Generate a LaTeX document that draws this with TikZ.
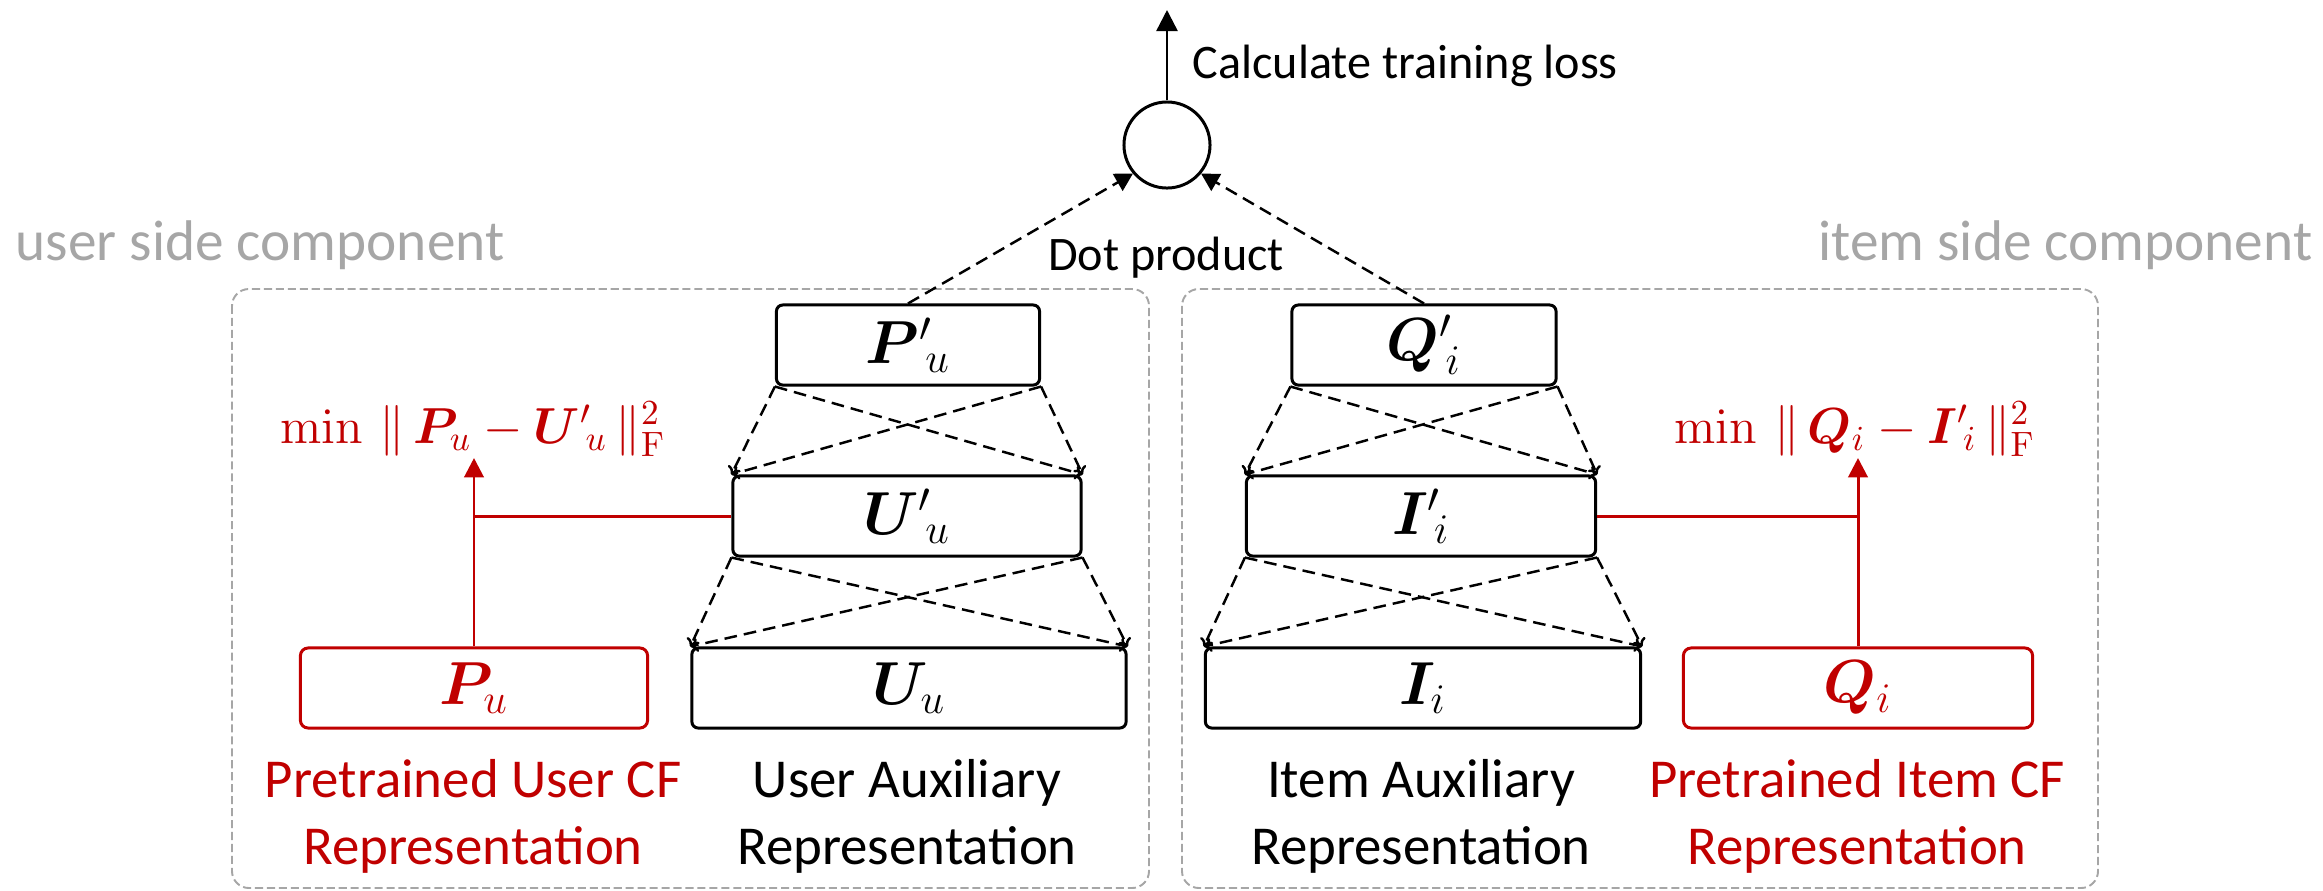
\documentclass[tikz,border=0pt]{standalone}
\usepackage{amsmath,bm}
\usepackage[no-math]{fontspec}
\setmainfont{Carlito}
\usetikzlibrary{arrows.meta,calc}
\definecolor{cfred}{HTML}{C00000}
\definecolor{compgray}{HTML}{A6A6A6}

\begin{document}
\begin{tikzpicture}[x=0.01cm,y=-0.01cm,
  layer/.style={draw,line width=0.85pt,rounded corners=1.8pt,inner sep=0pt,
    minimum height=0.8cm,font=\fontsize{17.4}{20}\selectfont},
  cfbox/.style={layer,draw=cfred,text=cfred,rounded corners=2.2pt},
  link/.style={line width=0.7pt,dash pattern=on 3.6pt off 2pt,
    -{To[length=2.2pt,width=4pt]}},
  dotlink/.style={line width=0.7pt,dash pattern=on 3.6pt off 2pt,
    -{Triangle[length=5pt,width=5.5pt]}},
  cfline/.style={draw=cfred,line width=0.85pt},
  cfarrow/.style={cfline,-{Triangle[length=5.5pt,width=5.5pt]}},
  compbox/.style={draw=compgray,line width=0.55pt,dash pattern=on 2.3pt off 1.1pt,
    rounded corners=4.8pt},
  complabel/.style={text=compgray,inner sep=0pt,font=\fontsize{16.3}{19}\selectfont},
  caption/.style={inner sep=0pt,align=center,font=\fontsize{15.6}{19}\selectfont},
  note/.style={inner sep=0pt,font=\fontsize{13.7}{16}\selectfont},
  objective/.style={inner sep=0pt,text=cfred,font=\fontsize{14}{16}\selectfont},
]
\useasboundingbox (0,0) rectangle (2323,890);

% component frames
\draw[compbox] (232,289) rectangle (1149,888);
\draw[compbox] (1182,289) rectangle (2098,888);
\node[complabel,anchor=base west] (userside) at (15,260) {user side component};
\node[complabel,anchor=base east] (itemside) at (2313,260) {item side component};

% user tower
\node[layer,minimum width=2.63cm] (Ppu) at (908,345) {${\bm{P}'}_{\!u}$};
\node[layer,minimum width=3.48cm] (Upu) at (907,516) {${\bm{U}'}_{\!u}$};
\node[layer,minimum width=4.34cm] (Uu)  at (909,688) {$\bm{U}_{u}$};
\node[cfbox,minimum width=3.47cm] (Pu)  at (474,688) {$\bm{P}_{u}$};

% item tower
\node[layer,minimum width=2.64cm] (Qpi) at (1424,345) {${\bm{Q}'}_{\!i}$};
\node[layer,minimum width=3.49cm] (Ipi) at (1421,516) {${\bm{I}'}_{\!i}$};
\node[layer,minimum width=4.35cm] (Ii)  at (1423,688) {$\bm{I}_{i}$};
\node[cfbox,minimum width=3.49cm] (Qi)  at (1858,688) {$\bm{Q}_{i}$};

% fully connected links between layers
\foreach \a/\b in {Ppu/Upu,Upu/Uu,Qpi/Ipi,Ipi/Ii}{
  \draw[link] (\a.south west) -- (\b.north west);
  \draw[link] (\a.south west) -- (\b.north east);
  \draw[link] (\a.south east) -- (\b.north west);
  \draw[link] (\a.south east) -- (\b.north east);
}

% dot product and loss
\node[draw,circle,line width=0.85pt,minimum size=0.86cm,inner sep=0pt] (dot) at (1167,145) {};
\coordinate (lossend) at (1167,10);
\draw[line width=0.7pt,-{Triangle[length=6pt,width=6pt]}] (dot) -- (lossend);
\node[note,anchor=base west] (calc) at (1192,78) {Calculate training loss};
\node[note,anchor=base] (dp) at (1166,270) {Dot product};
\draw[dotlink] (Ppu.north) -- (dot.220);
\draw[dotlink] (Qpi.north) -- (dot.320);

% alignment objectives
\node[objective,anchor=base] (objU) at (473,443)
  {$\min\,\|\,\bm{P}_{u}-{\bm{U}'}_{\!u}\,\|_{\mathrm{F}}^{2}$};
\node[objective,anchor=base] (objI) at (1855,443)
  {$\min\,\|\,\bm{Q}_{i}-{\bm{I}'}_{\!i}\,\|_{\mathrm{F}}^{2}$};
\coordinate (tipU) at (474,458);
\coordinate (tipI) at (1858,458);
\draw[cfarrow] (Pu.north) -- (tipU);
\draw[cfarrow] (Qi.north) -- (tipI);
\draw[cfline] (Upu.west) -- (Upu.west -| Pu.north);
\draw[cfline] (Ipi.east) -- (Ipi.east -| Qi.north);

% captions (anchored at the baseline of their second line)
\node[caption,text=cfred,anchor=base] (capPu) at (473,864) {Pretrained User CF\\Representation};
\node[caption,anchor=base] (capUu) at (907,864) {User Auxiliary\\Representation};
\node[caption,anchor=base] (capIi) at (1421,864) {Item Auxiliary\\Representation};
\node[caption,text=cfred,anchor=base] (capQi) at (1857,864) {Pretrained Item CF\\Representation};
\end{tikzpicture}
\end{document}
